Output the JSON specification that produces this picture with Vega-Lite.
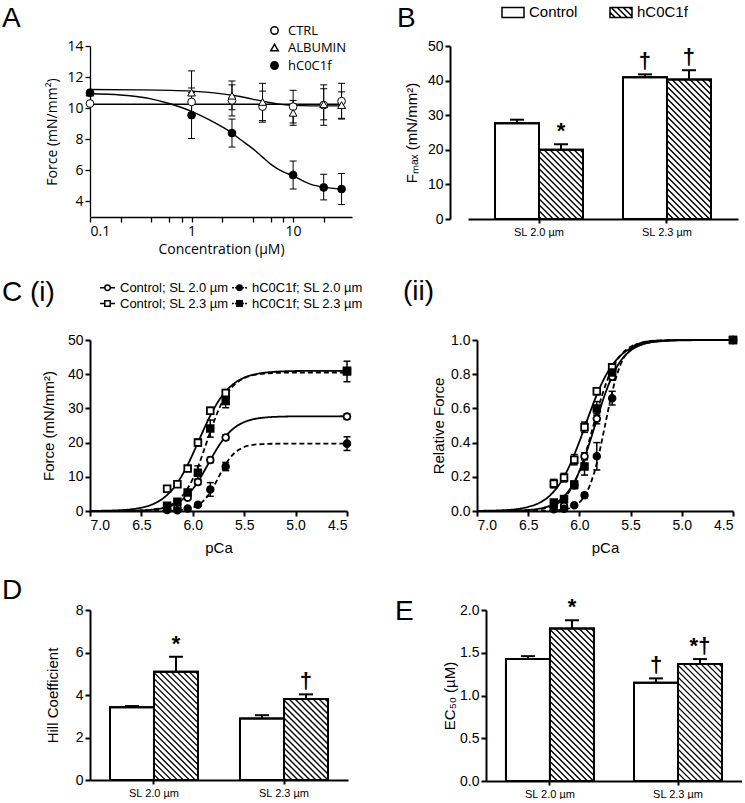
{
"$schema": "https://vega.github.io/schema/vega-lite/v6.json",
"background": "white",
"padding": {"left": 2, "top": 0, "right": 0, "bottom": 0},
"config": {
  "view": {"stroke": null},
  "font": "Liberation Sans",
  "axis": {"domainColor": "black", "domainWidth": 2, "tickColor": "black", "tickWidth": 2, "tickSize": 5, "labelColor": "black", "titleColor": "black", "grid": false, "labelFont": "Liberation Sans", "titleFont": "Liberation Sans", "labelFontSize": 14, "titleFontSize": 15, "titleFontWeight": "normal", "labelPadding": 2, "labelOverlap": false},
  "legend": {"labelFont": "Liberation Sans", "labelColor": "black"},
  "title": {"font": "Liberation Sans", "fontSize": 28, "fontWeight": "normal", "color": "black", "anchor": "start", "frame": "group", "offset": 0}
},
"datasets": {
  "aPts": [
    {"c":0.1,"f":10.3,"lo":10.3,"hi":10.3,"g":"CTRL"},
    {"c":1,"f":10.4,"lo":9.5,"hi":11.3,"g":"CTRL"},
    {"c":2.5,"f":10.5,"lo":9.5,"hi":11.5,"g":"CTRL"},
    {"c":5,"f":10.1,"lo":9.1,"hi":11.1,"g":"CTRL"},
    {"c":10,"f":10.1,"lo":9.05,"hi":11.15,"g":"CTRL"},
    {"c":20,"f":10.2,"lo":8.9,"hi":11.5,"g":"CTRL"},
    {"c":30,"f":10.45,"lo":9.3,"hi":11.6,"g":"CTRL"},
    {"c":0.1,"f":11.0,"lo":11.0,"hi":11.0,"g":"ALBUMIN"},
    {"c":1,"f":11.0,"lo":9.6,"hi":12.4,"g":"ALBUMIN"},
    {"c":2.5,"f":10.8,"lo":9.9,"hi":11.75,"g":"ALBUMIN"},
    {"c":5,"f":10.4,"lo":9.2,"hi":11.6,"g":"ALBUMIN"},
    {"c":10,"f":9.7,"lo":8.9,"hi":10.5,"g":"ALBUMIN"},
    {"c":20,"f":10.25,"lo":9.25,"hi":11.25,"g":"ALBUMIN"},
    {"c":30,"f":10.2,"lo":9.35,"hi":11.05,"g":"ALBUMIN"},
    {"c":0.1,"f":11.0,"lo":11.0,"hi":11.0,"g":"hC0C1f"},
    {"c":1,"f":9.55,"lo":8.05,"hi":11.0,"g":"hC0C1f"},
    {"c":2.5,"f":8.4,"lo":7.5,"hi":9.3,"g":"hC0C1f"},
    {"c":10,"f":5.7,"lo":4.8,"hi":6.6,"g":"hC0C1f"},
    {"c":20,"f":4.9,"lo":4.1,"hi":5.75,"g":"hC0C1f"},
    {"c":30,"f":4.8,"lo":3.8,"hi":5.8,"g":"hC0C1f"}
  ],
  "aFit": [
    {"c":0.1,"f":10.25,"g":"CTRL"},{"c":30,"f":10.25,"g":"CTRL"},
    {"c":0.1,"f":11.2,"g":"ALBUMIN"},{"c":0.3,"f":11.18,"g":"ALBUMIN"},{"c":1,"f":11.1,"g":"ALBUMIN"},{"c":2,"f":10.92,"g":"ALBUMIN"},{"c":3,"f":10.75,"g":"ALBUMIN"},{"c":5,"f":10.45,"g":"ALBUMIN"},{"c":7,"f":10.28,"g":"ALBUMIN"},{"c":10,"f":10.18,"g":"ALBUMIN"},{"c":15,"f":10.15,"g":"ALBUMIN"},{"c":20,"f":10.15,"g":"ALBUMIN"},{"c":30,"f":10.15,"g":"ALBUMIN"},
    {"c":0.1,"f":10.93,"g":"hC0C1f"},{"c":0.2,"f":10.85,"g":"hC0C1f"},{"c":0.4,"f":10.6,"g":"hC0C1f"},{"c":0.6,"f":10.3,"g":"hC0C1f"},{"c":1,"f":9.8,"g":"hC0C1f"},{"c":1.5,"f":9.25,"g":"hC0C1f"},{"c":2,"f":8.8,"g":"hC0C1f"},{"c":2.5,"f":8.4,"g":"hC0C1f"},{"c":3,"f":8.0,"g":"hC0C1f"},{"c":4,"f":7.4,"g":"hC0C1f"},{"c":5,"f":6.85,"g":"hC0C1f"},{"c":6,"f":6.4,"g":"hC0C1f"},{"c":8,"f":5.9,"g":"hC0C1f"},{"c":10,"f":5.65,"g":"hC0C1f"},{"c":15,"f":5.1,"g":"hC0C1f"},{"c":20,"f":4.92,"g":"hC0C1f"},{"c":30,"f":4.8,"g":"hC0C1f"}
  ],
  "bBar": [
    {"sl":"SL 2.0 µm","trt":"Control","v":27.7,"hi":28.7,"m":""},
    {"sl":"SL 2.0 µm","trt":"hC0C1f","v":20.0,"hi":21.6,"m":"*"},
    {"sl":"SL 2.3 µm","trt":"Control","v":41.0,"hi":41.8,"m":"†"},
    {"sl":"SL 2.3 µm","trt":"hC0C1f","v":40.3,"hi":43.0,"m":"†"}
  ],
  "dBar": [
    {"sl":"SL 2.0 µm","trt":"Control","v":3.42,"hi":3.48,"m":""},
    {"sl":"SL 2.0 µm","trt":"hC0C1f","v":5.1,"hi":5.8,"m":"*"},
    {"sl":"SL 2.3 µm","trt":"Control","v":2.9,"hi":3.05,"m":""},
    {"sl":"SL 2.3 µm","trt":"hC0C1f","v":3.81,"hi":4.03,"m":"†"}
  ],
  "eBar": [
    {"sl":"SL 2.0 µm","trt":"Control","v":1.426,"hi":1.46,"m":""},
    {"sl":"SL 2.0 µm","trt":"hC0C1f","v":1.785,"hi":1.88,"m":"*"},
    {"sl":"SL 2.3 µm","trt":"Control","v":1.148,"hi":1.2,"m":"†"},
    {"sl":"SL 2.3 µm","trt":"hC0C1f","v":1.367,"hi":1.426,"m":"*†"}
  ],
  "cPts": [
    {"p":6.25,"s":"c20","F":0.7,"Flo":0.5,"Fhi":0.9,"R":0.02,"Rlo":0.01,"Rhi":0.03},
    {"p":6.15,"s":"c20","F":1.0,"Flo":0.8,"Fhi":1.2,"R":0.03,"Rlo":0.02,"Rhi":0.04},
    {"p":6.05,"s":"c20","F":3.9,"Flo":3.4,"Fhi":4.4,"R":0.15,"Rlo":0.13,"Rhi":0.17},
    {"p":5.95,"s":"c20","F":8.5,"Flo":7.7,"Fhi":9.3,"R":0.32,"Rlo":0.3,"Rhi":0.34},
    {"p":5.83,"s":"c20","F":14.9,"Flo":14.1,"Fhi":15.7,"R":0.54,"Rlo":0.51,"Rhi":0.57},
    {"p":5.68,"s":"c20","F":21.5,"Flo":20.7,"Fhi":22.3,"R":0.785,"Rlo":0.765,"Rhi":0.805},
    {"p":4.5,"s":"c20","F":27.6,"Flo":26.8,"Fhi":28.4,"R":1,"Rlo":1,"Rhi":1},
    {"p":6.25,"s":"h20","F":0.3,"Flo":0.2,"Fhi":0.4,"R":0.01,"Rlo":0.005,"Rhi":0.015},
    {"p":6.15,"s":"h20","F":0.2,"Flo":0.1,"Fhi":0.3,"R":0.013,"Rlo":0.008,"Rhi":0.018},
    {"p":6.05,"s":"h20","F":0.7,"Flo":0.5,"Fhi":0.9,"R":0.033,"Rlo":0.023,"Rhi":0.043},
    {"p":5.95,"s":"h20","F":1.8,"Flo":1.4,"Fhi":2.2,"R":0.092,"Rlo":0.077,"Rhi":0.107},
    {"p":5.83,"s":"h20","F":6.3,"Flo":4.3,"Fhi":8.3,"R":0.32,"Rlo":0.24,"Rhi":0.4},
    {"p":5.68,"s":"h20","F":13.0,"Flo":11.8,"Fhi":14.2,"R":0.66,"Rlo":0.62,"Rhi":0.7},
    {"p":4.5,"s":"h20","F":19.7,"Flo":17.7,"Fhi":21.7,"R":1,"Rlo":1,"Rhi":1},
    {"p":6.25,"s":"c23","F":6.5,"Flo":5.7,"Fhi":7.3,"R":0.16,"Rlo":0.135,"Rhi":0.185},
    {"p":6.15,"s":"c23","F":7.8,"Flo":7.0,"Fhi":8.6,"R":0.195,"Rlo":0.17,"Rhi":0.22},
    {"p":6.05,"s":"c23","F":12.4,"Flo":11.6,"Fhi":13.2,"R":0.3,"Rlo":0.27,"Rhi":0.33},
    {"p":5.95,"s":"c23","F":20.0,"Flo":19.0,"Fhi":21.0,"R":0.49,"Rlo":0.46,"Rhi":0.52},
    {"p":5.83,"s":"c23","F":29.3,"Flo":28.3,"Fhi":30.3,"R":0.7,"Rlo":0.68,"Rhi":0.72},
    {"p":5.68,"s":"c23","F":34.5,"Flo":33.5,"Fhi":35.5,"R":0.84,"Rlo":0.82,"Rhi":0.86},
    {"p":4.5,"s":"c23","F":41.0,"Flo":40.2,"Fhi":41.8,"R":1,"Rlo":1,"Rhi":1},
    {"p":6.25,"s":"h23","F":1.5,"Flo":1.0,"Fhi":2.0,"R":0.05,"Rlo":0.04,"Rhi":0.06},
    {"p":6.15,"s":"h23","F":2.7,"Flo":2.2,"Fhi":3.2,"R":0.07,"Rlo":0.055,"Rhi":0.085},
    {"p":6.05,"s":"h23","F":5.4,"Flo":4.6,"Fhi":6.2,"R":0.155,"Rlo":0.135,"Rhi":0.175},
    {"p":5.95,"s":"h23","F":11.2,"Flo":9.2,"Fhi":13.2,"R":0.26,"Rlo":0.21,"Rhi":0.31},
    {"p":5.83,"s":"h23","F":24.1,"Flo":21.6,"Fhi":26.6,"R":0.6,"Rlo":0.56,"Rhi":0.64},
    {"p":5.68,"s":"h23","F":32.2,"Flo":30.2,"Fhi":34.2,"R":0.81,"Rlo":0.78,"Rhi":0.84},
    {"p":4.5,"s":"h23","F":40.8,"Flo":37.8,"Fhi":43.8,"R":1,"Rlo":1,"Rhi":1}
  ],
  "cFit": [
    {"p":7.0,"s":"c20","F":0.003,"R":0.0001},{"p":6.8,"s":"c20","F":0.016,"R":0.0006},{"p":6.6,"s":"c20","F":0.077,"R":0.0028},{"p":6.5,"s":"c20","F":0.167,"R":0.006},{"p":6.4,"s":"c20","F":0.363,"R":0.013},{"p":6.3,"s":"c20","F":0.781,"R":0.028},{"p":6.2,"s":"c20","F":1.654,"R":0.06},{"p":6.1,"s":"c20","F":3.38,"R":0.122},{"p":6.0,"s":"c20","F":6.45,"R":0.233},{"p":5.95,"s":"c20","F":8.59,"R":0.31},{"p":5.9,"s":"c20","F":11.08,"R":0.4},{"p":5.85,"s":"c20","F":13.74,"R":0.496},{"p":5.8,"s":"c20","F":16.43,"R":0.593},{"p":5.75,"s":"c20","F":18.92,"R":0.683},{"p":5.7,"s":"c20","F":21.08,"R":0.761},{"p":5.65,"s":"c20","F":22.85,"R":0.825},{"p":5.6,"s":"c20","F":24.22,"R":0.875},{"p":5.5,"s":"c20","F":25.99,"R":0.938},{"p":5.4,"s":"c20","F":26.9,"R":0.971},{"p":5.3,"s":"c20","F":27.33,"R":0.987},{"p":5.2,"s":"c20","F":27.53,"R":0.994},{"p":5.0,"s":"c20","F":27.66,"R":0.999},{"p":4.5,"s":"c20","F":27.7,"R":1},
    {"p":7.0,"s":"h20","F":0,"R":0},{"p":6.8,"s":"h20","F":0,"R":0},{"p":6.6,"s":"h20","F":0.001,"R":0},{"p":6.5,"s":"h20","F":0.003,"R":0.0002},{"p":6.4,"s":"h20","F":0.009,"R":0.0005},{"p":6.3,"s":"h20","F":0.031,"R":0.0016},{"p":6.2,"s":"h20","F":0.099,"R":0.005},{"p":6.1,"s":"h20","F":0.317,"R":0.016},{"p":6.0,"s":"h20","F":0.993,"R":0.05},{"p":5.95,"s":"h20","F":1.718,"R":0.087},{"p":5.9,"s":"h20","F":2.888,"R":0.147},{"p":5.85,"s":"h20","F":4.649,"R":0.236},{"p":5.8,"s":"h20","F":7.033,"R":0.357},{"p":5.75,"s":"h20","F":9.85,"R":0.5},{"p":5.7,"s":"h20","F":12.667,"R":0.643},{"p":5.65,"s":"h20","F":15.05,"R":0.764},{"p":5.6,"s":"h20","F":16.81,"R":0.853},{"p":5.5,"s":"h20","F":18.71,"R":0.95},{"p":5.4,"s":"h20","F":19.38,"R":0.984},{"p":5.3,"s":"h20","F":19.6,"R":0.995},{"p":5.2,"s":"h20","F":19.67,"R":0.998},{"p":5.0,"s":"h20","F":19.7,"R":1},{"p":4.5,"s":"h20","F":19.7,"R":1},
    {"p":7.0,"s":"c23","F":0.035,"R":0.0009},{"p":6.8,"s":"c23","F":0.134,"R":0.0033},{"p":6.6,"s":"c23","F":0.504,"R":0.012},{"p":6.5,"s":"c23","F":0.972,"R":0.024},{"p":6.4,"s":"c23","F":1.853,"R":0.045},{"p":6.3,"s":"c23","F":3.46,"R":0.084},{"p":6.2,"s":"c23","F":6.23,"R":0.152},{"p":6.1,"s":"c23","F":10.66,"R":0.26},{"p":6.0,"s":"c23","F":16.65,"R":0.406},{"p":5.95,"s":"c23","F":20.01,"R":0.488},{"p":5.9,"s":"c23","F":23.41,"R":0.571},{"p":5.85,"s":"c23","F":26.65,"R":0.65},{"p":5.8,"s":"c23","F":29.6,"R":0.722},{"p":5.75,"s":"c23","F":32.14,"R":0.784},{"p":5.7,"s":"c23","F":34.24,"R":0.835},{"p":5.65,"s":"c23","F":35.92,"R":0.876},{"p":5.6,"s":"c23","F":37.23,"R":0.908},{"p":5.5,"s":"c23","F":38.98,"R":0.951},{"p":5.4,"s":"c23","F":39.93,"R":0.974},{"p":5.3,"s":"c23","F":40.45,"R":0.987},{"p":5.2,"s":"c23","F":40.71,"R":0.993},{"p":5.0,"s":"c23","F":40.93,"R":0.998},{"p":4.5,"s":"c23","F":41,"R":1},
    {"p":7.0,"s":"h23","F":0.002,"R":0.0001},{"p":6.8,"s":"h23","F":0.011,"R":0.0003},{"p":6.6,"s":"h23","F":0.064,"R":0.0016},{"p":6.5,"s":"h23","F":0.153,"R":0.0038},{"p":6.4,"s":"h23","F":0.365,"R":0.009},{"p":6.3,"s":"h23","F":0.867,"R":0.021},{"p":6.2,"s":"h23","F":2.017,"R":0.05},{"p":6.1,"s":"h23","F":4.52,"R":0.112},{"p":6.0,"s":"h23","F":9.38,"R":0.232},{"p":5.95,"s":"h23","F":12.88,"R":0.318},{"p":5.9,"s":"h23","F":17.01,"R":0.42},{"p":5.85,"s":"h23","F":21.41,"R":0.529},{"p":5.8,"s":"h23","F":25.69,"R":0.634},{"p":5.75,"s":"h23","F":29.51,"R":0.729},{"p":5.7,"s":"h23","F":32.64,"R":0.806},{"p":5.65,"s":"h23","F":35.06,"R":0.866},{"p":5.6,"s":"h23","F":36.81,"R":0.909},{"p":5.5,"s":"h23","F":38.88,"R":0.96},{"p":5.4,"s":"h23","F":39.81,"R":0.983},{"p":5.3,"s":"h23","F":40.21,"R":0.993},{"p":5.2,"s":"h23","F":40.38,"R":0.997},{"p":5.0,"s":"h23","F":40.48,"R":1},{"p":4.5,"s":"h23","F":40.5,"R":1}
  ]
},
"vconcat": [
 {"hconcat": [
  {
   "width": 262, "height": 171,
   "title": {"text": "A", "dx": -88, "dy": 13},
   "layer": [
    {"data": {"name": "aFit"}, "mark": {"type": "line", "interpolate": "monotone", "color": "black", "strokeWidth": 1.4},
     "encoding": {
      "x": {"field": "c", "type": "quantitative", "scale": {"type": "log", "domain": [0.1, 38], "nice": false},
            "axis": {"title": "Concentration (µM)", "values": [0.1,0.2,0.4,0.6,0.8,1,2,4,6,8,10,20], "tickCount": 30, "labelExpr": "datum.value==0.1?'0.1':datum.value==1?'1':datum.value==10?'10':''", "labelOverlap": false, "domainWidth": 1.3, "tickWidth": 1.3, "labelFont": "Open Sans", "titleFont": "Open Sans", "labelFontSize": 14, "titleFontSize": 14, "titlePadding": 4}},
      "y": {"field": "f", "type": "quantitative", "scale": {"domain": [3, 14], "nice": false, "zero": false},
            "axis": {"title": "Force (mN/mm²)", "values": [4,6,8,10,12,14], "tickCount": 20, "format": "d", "labelOverlap": false, "domainWidth": 1.3, "tickWidth": 1.3, "labelFont": "Open Sans", "titleFont": "Open Sans", "labelFontSize": 14, "titleFontSize": 14, "titlePadding": 7}},
      "detail": {"field": "g"}}},
    {"data": {"name": "aPts"}, "mark": {"type": "rule", "color": "black", "strokeWidth": 1},
     "encoding": {"x": {"field": "c", "type": "quantitative"}, "y": {"field": "lo", "type": "quantitative"}, "y2": {"field": "hi"}}},
    {"data": {"name": "aPts"}, "mark": {"type": "tick", "orient": "horizontal", "color": "black", "size": 7, "thickness": 1, "opacity": 1},
     "encoding": {"x": {"field": "c", "type": "quantitative"}, "y": {"field": "lo", "type": "quantitative"}}},
    {"data": {"name": "aPts"}, "mark": {"type": "tick", "orient": "horizontal", "color": "black", "size": 7, "thickness": 1, "opacity": 1},
     "encoding": {"x": {"field": "c", "type": "quantitative"}, "y": {"field": "hi", "type": "quantitative"}}},
    {"data": {"name": "aPts"}, "mark": {"type": "point", "filled": true, "stroke": "black", "strokeWidth": 1, "size": 60, "opacity": 1},
     "encoding": {"x": {"field": "c", "type": "quantitative"}, "y": {"field": "f", "type": "quantitative"},
      "shape": {"field": "g", "type": "nominal", "scale": {"domain": ["CTRL","ALBUMIN","hC0C1f"], "range": ["circle","triangle-up","circle"]},
                "legend": {"title": null, "orient": "none", "legendX": 178, "legendY": -22, "labelFont": "Open Sans", "labelFontSize": 13, "labelOffset": 7, "rowPadding": 3, "symbolSize": 55, "encode": {"symbols": {"update": {"stroke": {"value": "black"}, "strokeWidth": {"value": 1}}}}}},
      "fill": {"field": "g", "type": "nominal", "scale": {"domain": ["CTRL","ALBUMIN","hC0C1f"], "range": ["white","white","black"]},
                "legend": {"title": null, "orient": "none", "legendX": 178, "legendY": -22, "labelFont": "Open Sans", "labelFontSize": 13, "labelOffset": 7, "rowPadding": 3, "symbolSize": 55, "encode": {"symbols": {"update": {"stroke": {"value": "black"}, "strokeWidth": {"value": 1}}}}}}}}
   ]
  },
  {
   "width": 270, "height": 173,
   "title": {"text": "B", "dx": -71, "dy": 37},
   "data": {"name": "bBar"},
   "encoding": {
     "x": {"field": "sl", "type": "nominal", "scale": {"paddingInner": 0.3125, "paddingOuter": 0.211}, "axis": {"title": null, "labelAngle": 0, "labelFontSize": 11, "tickSize": 4, "labelPadding": 3}},
     "xOffset": {"field": "trt", "type": "nominal", "scale": {"domain": ["Control","hC0C1f"]}}
   },
   "layer": [
    {"mark": {"type": "bar", "fill": "white", "stroke": "black", "strokeWidth": 2},
     "encoding": {"y": {"field": "v", "type": "quantitative", "scale": {"domain": [0, 50]}, "axis": {"title": "Fₘₐₓ (mN/mm²)", "values": [0,10,20,30,40,50], "tickCount": 20, "format": "d", "labelOverlap": false, "offset": 18, "titlePadding": 8}}}},
    {"transform": [{"filter": "datum.trt==='hC0C1f'"}],
     "mark": {"type": "point", "size": 4, "filled": false, "stroke": "black", "strokeWidth": 1.4, "opacity": 1},
     "encoding": {"y": {"field": "v", "type": "quantitative"},
      "shape": {"field": "sl", "type": "nominal", "legend": null, "scale": {"domain": ["SL 2.0 µm","SL 2.3 µm"], "range": [
        "M19,0L22,3M13,0L22,9M7,0L22,15M1,0L22,21M-5,0L22,27M-11,0L22,33M-17,0L22,39M-22,1L22,45M-22,7L22,51M-22,13L22,57M-22,19L22,63M-22,25L22,69M-22,31L16,69M-22,37L10,69M-22,43L4,69M-22,49L-2,69M-22,55L-8,69M-22,61L-14,69M-22,67L-20,69",
        "M19,0L22,3M13,0L22,9M7,0L22,15M1,0L22,21M-5,0L22,27M-11,0L22,33M-17,0L22,39M-22,1L22,45M-22,7L22,51M-22,13L22,57M-22,19L22,63M-22,25L22,69M-22,31L22,75M-22,37L22,81M-22,43L22,87M-22,49L22,93M-22,55L22,99M-22,61L22,105M-22,67L22,111M-22,73L22,117M-22,79L22,123M-22,85L22,129M-22,91L22,135M-22,97L20,139M-22,103L14,139M-22,109L8,139M-22,115L2,139M-22,121L-4,139M-22,127L-10,139M-22,133L-16,139"]}}}},
    {"mark": {"type": "bar", "fillOpacity": 0, "stroke": "black", "strokeWidth": 2},
     "encoding": {"y": {"field": "v", "type": "quantitative"}}},
    {"mark": {"type": "rule", "color": "black", "strokeWidth": 2},
     "encoding": {"y": {"field": "v", "type": "quantitative"}, "y2": {"field": "hi"}}},
    {"mark": {"type": "tick", "orient": "horizontal", "color": "black", "size": 14, "thickness": 2, "opacity": 1},
     "encoding": {"y": {"field": "hi", "type": "quantitative"}}},
    {"mark": {"type": "text", "baseline": "bottom", "dy": -1, "fontSize": 22, "fontWeight": "bold", "color": "black"},
     "encoding": {"y": {"field": "hi", "type": "quantitative"}, "text": {"field": "m"}}},
    {"transform": [{"filter": "false"}],
     "mark": {"type": "point", "filled": false, "stroke": "black", "strokeWidth": 1.5, "opacity": 1},
     "encoding": {"shape": {"field": "trt", "type": "nominal", "scale": {"domain": ["Control","hC0C1f"], "range": [
        "M-1,-0.455H1V0.455H-1Z",
        "M-1,-0.455H1V0.455H-1ZM0.745,-0.455L1,-0.2M0.2,-0.455L1,0.345M-0.345,-0.455L0.565,0.455M-0.89,-0.455L0.02,0.455M-1,-0.02L-0.525,0.455"]},
      "legend": {"title": null, "orient": "none", "direction": "horizontal", "legendX": 33, "legendY": -46, "symbolSize": 484, "symbolStrokeWidth": 1.5, "symbolStrokeColor": "black", "symbolFillColor": "white", "labelFontSize": 15, "labelOffset": 4, "columnPadding": 29}}}}
   ],
   "resolve": {"scale": {"shape": "independent"}}
  }
 ], "spacing": 116, "bounds": "flush",
 "resolve": {"scale": {"shape": "independent", "fill": "independent", "strokeDash": "independent"}, "legend": {"shape": "independent", "fill": "independent"}}},
 {"vconcat": [
  {"hconcat": [
   {
    "width": 257, "height": 171,
    "title": {"text": "C (i)", "dx": -88, "dy": 32},
    "layer": [
     {"data": {"name": "cFit"}, "mark": {"type": "line", "interpolate": "monotone", "color": "black", "strokeWidth": 1.8},
      "encoding": {
       "x": {"field": "p", "type": "quantitative", "scale": {"domain": [4.5, 7], "reverse": true, "nice": false, "zero": false}, "axis": {"title": "pCa", "values": [7,6.5,6,5.5,5,4.5], "tickCount": 20, "format": ".1f", "labelOverlap": false, "titlePadding": 8}},
       "y": {"field": "F", "type": "quantitative", "scale": {"domain": [0, 50]}, "axis": {"title": "Force (mN/mm²)", "values": [0,10,20,30,40,50], "tickCount": 20, "format": "d", "labelOverlap": false, "titlePadding": 11}},
       "detail": {"field": "s"},
       "strokeDash": {"field": "s", "type": "nominal", "scale": {"domain": ["c20","h20","c23","h23"], "range": [[1,0],[5,3],[1,0],[5,3]]}, "legend": null}}},
     {"data": {"name": "cPts"}, "mark": {"type": "rule", "color": "black", "strokeWidth": 1.5},
      "encoding": {"x": {"field": "p", "type": "quantitative"}, "y": {"field": "Flo", "type": "quantitative"}, "y2": {"field": "Fhi"}}},
     {"data": {"name": "cPts"}, "mark": {"type": "tick", "orient": "horizontal", "color": "black", "size": 7, "thickness": 1.5, "opacity": 1},
      "encoding": {"x": {"field": "p", "type": "quantitative"}, "y": {"field": "Flo", "type": "quantitative"}}},
     {"data": {"name": "cPts"}, "mark": {"type": "tick", "orient": "horizontal", "color": "black", "size": 7, "thickness": 1.5, "opacity": 1},
      "encoding": {"x": {"field": "p", "type": "quantitative"}, "y": {"field": "Fhi", "type": "quantitative"}}},
     {"data": {"name": "cPts"}, "mark": {"type": "point", "filled": true, "stroke": "black", "strokeWidth": 1.8, "size": 45, "opacity": 1},
      "encoding": {"x": {"field": "p", "type": "quantitative"}, "y": {"field": "F", "type": "quantitative"},
       "shape": {"field": "s", "type": "nominal", "scale": {"domain": ["c20","h20","c23","h23"], "range": ["circle","circle","square","square"]}, "legend": null},
       "fill": {"field": "s", "type": "nominal", "scale": {"domain": ["c20","h20","c23","h23"], "range": ["white","black","white","black"]}, "legend": null}}},
     {"data": {"name": "cPts"}, "transform": [{"filter": "false"}],
      "mark": {"type": "point", "filled": true, "stroke": "black", "strokeWidth": 1.5, "opacity": 1},
      "encoding": {
       "shape": {"field": "lab", "type": "nominal", "scale": {"domain": ["a1","a2","a3","a4"], "range": [
         "M-1,0H-0.36M0.36,0H1M0.36,0A0.36,0.36,0,1,1,-0.36,0A0.36,0.36,0,1,1,0.36,0Z",
         "M-1,0H-0.36M0.36,0H1M-0.36,-0.36H0.36V0.36H-0.36Z",
         "M-1,0H-0.75M-0.6,0H-0.36M0.36,0H0.6M0.75,0H1M0.36,0A0.36,0.36,0,1,1,-0.36,0A0.36,0.36,0,1,1,0.36,0Z",
         "M-1,0H-0.75M-0.6,0H-0.36M0.36,0H0.6M0.75,0H1M-0.36,-0.36H0.36V0.36H-0.36Z"]},
         "legend": {"title": null, "orient": "none", "columns": 2, "legendX": 9, "legendY": -61, "symbolSize": 225, "labelFontSize": 13, "labelOffset": 4, "columnPadding": 0, "rowPadding": 0,
           "labelExpr": "datum.value=='a1'?'Control; SL 2.0 µm':datum.value=='a2'?'Control; SL 2.3 µm':datum.value=='a3'?'hC0C1f; SL 2.0 µm':'hC0C1f; SL 2.3 µm'",
           "encode": {"symbols": {"update": {"stroke": {"value": "black"}, "strokeWidth": {"value": 1.6}}}}}},
       "fill": {"field": "lab", "type": "nominal", "scale": {"domain": ["a1","a2","a3","a4"], "range": ["white","white","black","black"]},
         "legend": {"title": null, "orient": "none", "columns": 2, "legendX": 9, "legendY": -61, "symbolSize": 225, "labelFontSize": 13, "labelOffset": 4, "columnPadding": 0, "rowPadding": 0,
           "labelExpr": "datum.value=='a1'?'Control; SL 2.0 µm':datum.value=='a2'?'Control; SL 2.3 µm':datum.value=='a3'?'hC0C1f; SL 2.0 µm':'hC0C1f; SL 2.3 µm'",
           "encode": {"symbols": {"update": {"stroke": {"value": "black"}, "strokeWidth": {"value": 1.6}}}}}}}}
    ],
    "resolve": {"scale": {"shape": "independent", "fill": "independent"}}
   },
   {
    "width": 256, "height": 171,
    "title": {"text": "(ii)", "dx": -74, "dy": -23},
    "layer": [
     {"data": {"name": "cFit"}, "mark": {"type": "line", "interpolate": "monotone", "color": "black", "strokeWidth": 1.8},
      "encoding": {
       "x": {"field": "p", "type": "quantitative", "scale": {"domain": [4.5, 7], "reverse": true, "nice": false, "zero": false}, "axis": {"title": "pCa", "values": [7,6.5,6,5.5,5,4.5], "tickCount": 20, "format": ".1f", "labelOverlap": false, "titlePadding": 8}},
       "y": {"field": "R", "type": "quantitative", "scale": {"domain": [0, 1]}, "axis": {"title": "Relative Force", "values": [0,0.2,0.4,0.6,0.8,1], "tickCount": 20, "format": ".1f", "labelOverlap": false, "titlePadding": 4}},
       "detail": {"field": "s"},
       "strokeDash": {"field": "s", "type": "nominal", "scale": {"domain": ["c20","h20","c23","h23"], "range": [[1,0],[5,3],[1,0],[5,3]]}, "legend": null}}},
     {"data": {"name": "cPts"}, "mark": {"type": "rule", "color": "black", "strokeWidth": 1.5},
      "encoding": {"x": {"field": "p", "type": "quantitative"}, "y": {"field": "Rlo", "type": "quantitative"}, "y2": {"field": "Rhi"}}},
     {"data": {"name": "cPts"}, "mark": {"type": "tick", "orient": "horizontal", "color": "black", "size": 7, "thickness": 1.5, "opacity": 1},
      "encoding": {"x": {"field": "p", "type": "quantitative"}, "y": {"field": "Rlo", "type": "quantitative"}}},
     {"data": {"name": "cPts"}, "mark": {"type": "tick", "orient": "horizontal", "color": "black", "size": 7, "thickness": 1.5, "opacity": 1},
      "encoding": {"x": {"field": "p", "type": "quantitative"}, "y": {"field": "Rhi", "type": "quantitative"}}},
     {"data": {"name": "cPts"}, "mark": {"type": "point", "filled": true, "stroke": "black", "strokeWidth": 1.8, "size": 45, "opacity": 1},
      "encoding": {"x": {"field": "p", "type": "quantitative"}, "y": {"field": "R", "type": "quantitative"},
       "shape": {"field": "s", "type": "nominal", "scale": {"domain": ["c20","h20","c23","h23"], "range": ["circle","circle","square","square"]}, "legend": null},
       "fill": {"field": "s", "type": "nominal", "scale": {"domain": ["c20","h20","c23","h23"], "range": ["white","black","white","black"]}, "legend": null}}}
    ]
   }
  ], "spacing": 130, "bounds": "flush",
  "resolve": {"scale": {"shape": "independent", "fill": "independent", "strokeDash": "independent"}, "legend": {"shape": "independent", "fill": "independent"}}},
  {"hconcat": [
   {
    "width": 258, "height": 170,
    "title": {"text": "D", "dx": -88, "dy": 6},
    "data": {"name": "dBar"},
    "encoding": {
      "x": {"field": "sl", "type": "nominal", "scale": {"paddingInner": 0.323, "paddingOuter": 0.1538}, "axis": {"title": null, "labelAngle": 0, "labelFontSize": 11, "tickSize": 4, "labelPadding": 3}},
      "xOffset": {"field": "trt", "type": "nominal", "scale": {"domain": ["Control","hC0C1f"]}}
    },
    "layer": [
     {"mark": {"type": "bar", "fill": "white", "stroke": "black", "strokeWidth": 2},
      "encoding": {"y": {"field": "v", "type": "quantitative", "scale": {"domain": [0, 8]}, "axis": {"title": "Hill Coefficient", "values": [0,2,4,6,8], "tickCount": 20, "format": "d", "labelOverlap": false, "titlePadding": 15}}}},
     {"transform": [{"filter": "datum.trt==='hC0C1f'"}],
      "mark": {"type": "point", "size": 4, "filled": false, "stroke": "black", "strokeWidth": 1.4, "opacity": 1},
      "encoding": {"y": {"field": "v", "type": "quantitative"},
       "shape": {"field": "sl", "type": "nominal", "legend": null, "scale": {"domain": ["SL 2.0 µm","SL 2.3 µm"], "range": [
         "M19,0L22,3M13,0L22,9M7,0L22,15M1,0L22,21M-5,0L22,27M-11,0L22,33M-17,0L22,39M-22,1L22,45M-22,7L22,51M-22,13L22,57M-22,19L22,63M-22,25L22,69M-22,31L22,75M-22,37L22,81M-22,43L22,87M-22,49L22,93M-22,55L22,99M-22,61L22,105M-22,67L19,108M-22,73L13,108M-22,79L7,108M-22,85L1,108M-22,91L-5,108M-22,97L-11,108M-22,103L-17,108",
         "M19,0L22,3M13,0L22,9M7,0L22,15M1,0L22,21M-5,0L22,27M-11,0L22,33M-17,0L22,39M-22,1L22,45M-22,7L22,51M-22,13L22,57M-22,19L22,63M-22,25L22,69M-22,31L22,75M-22,37L22,81M-22,43L16,81M-22,49L10,81M-22,55L4,81M-22,61L-2,81M-22,67L-8,81M-22,73L-14,81M-22,79L-20,81"]}}}},
     {"mark": {"type": "bar", "fillOpacity": 0, "stroke": "black", "strokeWidth": 2},
      "encoding": {"y": {"field": "v", "type": "quantitative"}}},
     {"mark": {"type": "rule", "color": "black", "strokeWidth": 2},
      "encoding": {"y": {"field": "v", "type": "quantitative"}, "y2": {"field": "hi"}}},
     {"mark": {"type": "tick", "orient": "horizontal", "color": "black", "size": 14, "thickness": 2, "opacity": 1},
      "encoding": {"y": {"field": "hi", "type": "quantitative"}}},
     {"mark": {"type": "text", "baseline": "bottom", "dy": -1, "fontSize": 22, "fontWeight": "bold", "color": "black"},
      "encoding": {"y": {"field": "hi", "type": "quantitative"}, "text": {"field": "m"}}}
    ]
   },
   {
    "width": 256, "height": 171,
    "title": {"text": "E", "dx": -91, "dy": 34},
    "data": {"name": "eBar"},
    "encoding": {
      "x": {"field": "sl", "type": "nominal", "scale": {"paddingInner": 0.3125, "paddingOuter": 0.156}, "axis": {"title": null, "labelAngle": 0, "labelFontSize": 11, "tickSize": 4, "labelPadding": 3}},
      "xOffset": {"field": "trt", "type": "nominal", "scale": {"domain": ["Control","hC0C1f"]}}
    },
    "layer": [
     {"mark": {"type": "bar", "fill": "white", "stroke": "black", "strokeWidth": 2},
      "encoding": {"y": {"field": "v", "type": "quantitative", "scale": {"domain": [0, 2]}, "axis": {"title": "EC₅₀ (µM)", "values": [0,0.5,1,1.5,2], "tickCount": 20, "format": ".1f", "labelOverlap": false, "titlePadding": 2}}}},
     {"transform": [{"filter": "datum.trt==='hC0C1f'"}],
      "mark": {"type": "point", "size": 4, "filled": false, "stroke": "black", "strokeWidth": 1.4, "opacity": 1},
      "encoding": {"y": {"field": "v", "type": "quantitative"},
       "shape": {"field": "sl", "type": "nominal", "legend": null, "scale": {"domain": ["SL 2.0 µm","SL 2.3 µm"], "range": [
         "M19,0L22,3M13,0L22,9M7,0L22,15M1,0L22,21M-5,0L22,27M-11,0L22,33M-17,0L22,39M-22,1L22,45M-22,7L22,51M-22,13L22,57M-22,19L22,63M-22,25L22,69M-22,31L22,75M-22,37L22,81M-22,43L22,87M-22,49L22,93M-22,55L22,99M-22,61L22,105M-22,67L22,111M-22,73L22,117M-22,79L22,123M-22,85L22,129M-22,91L22,135M-22,97L22,141M-22,103L22,147M-22,109L22,153M-22,115L16,153M-22,121L10,153M-22,127L4,153M-22,133L-2,153M-22,139L-8,153M-22,145L-14,153M-22,151L-20,153",
         "M19,0L22,3M13,0L22,9M7,0L22,15M1,0L22,21M-5,0L22,27M-11,0L22,33M-17,0L22,39M-22,1L22,45M-22,7L22,51M-22,13L22,57M-22,19L22,63M-22,25L22,69M-22,31L22,75M-22,37L22,81M-22,43L22,87M-22,49L22,93M-22,55L22,99M-22,61L22,105M-22,67L22,111M-22,73L22,117M-22,79L16,117M-22,85L10,117M-22,91L4,117M-22,97L-2,117M-22,103L-8,117M-22,109L-14,117M-22,115L-20,117"]}}}},
     {"mark": {"type": "bar", "fillOpacity": 0, "stroke": "black", "strokeWidth": 2},
      "encoding": {"y": {"field": "v", "type": "quantitative"}}},
     {"mark": {"type": "rule", "color": "black", "strokeWidth": 2},
      "encoding": {"y": {"field": "v", "type": "quantitative"}, "y2": {"field": "hi"}}},
     {"mark": {"type": "tick", "orient": "horizontal", "color": "black", "size": 14, "thickness": 2, "opacity": 1},
      "encoding": {"y": {"field": "hi", "type": "quantitative"}}},
     {"mark": {"type": "text", "baseline": "bottom", "dy": -1, "fontSize": 22, "fontWeight": "bold", "color": "black"},
      "encoding": {"y": {"field": "hi", "type": "quantitative"}, "text": {"field": "m"}}}
    ]
   }
  ], "spacing": 138, "bounds": "flush",
  "resolve": {"scale": {"shape": "independent", "fill": "independent", "strokeDash": "independent"}, "legend": {"shape": "independent", "fill": "independent"}}}
 ], "spacing": 22,
 "resolve": {"scale": {"shape": "independent", "fill": "independent", "strokeDash": "independent"}, "legend": {"shape": "independent", "fill": "independent"}}}
],
"spacing": 22,
"resolve": {"scale": {"shape": "independent", "fill": "independent", "strokeDash": "independent"}, "legend": {"shape": "independent", "fill": "independent"}}
}
